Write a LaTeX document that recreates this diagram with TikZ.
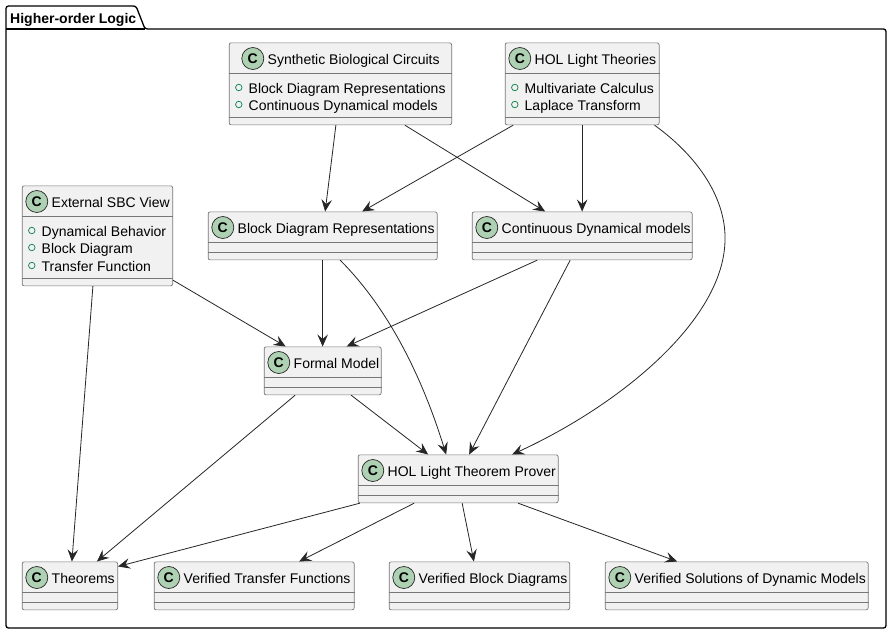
\documentclass[tikz,border=0pt]{standalone}
\usepackage{fontspec}
\setmainfont{Liberation Sans}
\usetikzlibrary{arrows.meta,calc}

\definecolor{boxfill}{HTML}{F1F1F1}
\definecolor{boxline}{HTML}{777777}
\definecolor{spotfill}{HTML}{ADD1B2}
\definecolor{memberring}{HTML}{038048}
\definecolor{edgeline}{HTML}{262626}

\tikzset{
  classbox/.style={
    rectangle,
    draw=boxline,
    fill=boxfill,
    line width=0.7pt,
    rounded corners=2pt,
    anchor=north west,
    inner sep=0pt,
  },
  spot/.style={
    circle,
    draw=black!85,
    fill=spotfill,
    line width=0.7pt,
    minimum size=22pt,
    inner sep=0pt,
    font=\fontsize{14}{14}\selectfont\bfseries,
  },
  classtext/.style={
    anchor=west,
    inner sep=0pt,
    text height=10pt,
    text depth=3pt,
    font=\fontsize{14}{14}\selectfont,
  },
  ring/.style={
    circle,
    draw=memberring,
    line width=0.7pt,
    minimum size=6.5pt,
    inner sep=0pt,
  },
  divider/.style={draw=boxline, line width=0.7pt},
  link/.style={
    -{Stealth[length=12pt,width=10.5pt,inset=4.5pt]},
    draw=edgeline,
    line width=0.8pt,
  },
}

% name, left, top, width, height, spot offset, title
\newcommand{\classnode}[7]{
  \node[classbox, minimum width=#4pt, minimum height=#5pt] (#1) at (#2-0.2,-#3+0.5) {};
  \node[spot] (#1c) at ($(#1.north west)+(#6pt,-16pt)$) {C};
  \node[classtext] (#1t) at ($(#1c.center)+(14.7pt,-2.5pt)$) {#7};
  \draw[divider] ($(#1.north west)+(0,-31pt)$) -- ($(#1.north east)+(0,-31pt)$);
  \draw[divider] ($(#1.south west)+(0,8pt)$) -- ($(#1.south east)+(0,8pt)$);
}
% class, index, line offset from top, text
\newcommand{\member}[4]{
  \node[ring] (#1r#2) at ($(#1.north west)+(10pt,-#3pt)$) {};
  \node[classtext] (#1m#2) at ($(#1r#2.center)+(9.7pt,-2pt)$) {#4};
}

\begin{document}
\begin{tikzpicture}[x=1pt,y=1pt]
  \useasboundingbox (0,0) rectangle (891,-632);

  \draw[line width=1.3pt, rounded corners=2.5pt, fill=white]
    (6,-29) -- (6,-6) -- (136,-6) -- (145,-29) -- (886,-29)
    -- (886,-628) -- (6,-628) -- cycle;
  \draw[line width=1.3pt] (6,-29) -- (145,-29);
  \node[classtext, font=\fontsize{14}{14}\selectfont\bfseries] (pkg) at (10,-19.5) {Higher-order Logic};

  \classnode{syn}{229}{43}{222.5}{82}{24}{Synthetic Biological Circuits}
  \member{syn}{1}{45}{Block Diagram Representations}
  \member{syn}{2}{62}{Continuous Dynamical models}

  \classnode{thy}{505}{43}{154}{82}{15}{HOL Light Theories}
  \member{thy}{1}{45}{Multivariate Calculus}
  \member{thy}{2}{62}{Laplace Transform}

  \classnode{ext}{22}{186}{150.5}{100}{15}{External SBC View}
  \member{ext}{1}{45}{Dynamical Behavior}
  \member{ext}{2}{62}{Block Diagram}
  \member{ext}{3}{80}{Transfer Function}

  \classnode{bd}{208}{212}{229}{48}{15}{Block Diagram Representations}
  \classnode{cd}{472}{212}{220}{48}{15}{Continuous Dynamical models}
  \classnode{fm}{264}{347}{117}{48}{15}{Formal Model}
  \classnode{hol}{358}{455}{200}{48}{15}{HOL Light Theorem Prover}
  \classnode{thm}{22}{562}{95.5}{48}{15}{Theorems}
  \classnode{vtf}{154}{562}{200}{48}{15}{Verified Transfer Functions}
  \classnode{vbd}{389}{562}{180.5}{48}{15}{Verified Block Diagrams}
  \classnode{vsd}{605}{562}{263}{48}{15}{Verified Solutions of Dynamic Models}

  \draw[link] ([xshift=-4.5pt]syn.south) -- ([xshift=2.5pt]bd.north);
  \draw[link] ([xshift=64.5pt]syn.south) -- ([xshift=-37pt]cd.north);
  \draw[link] ([xshift=-69pt]thy.south) -- ([xshift=39.5pt]bd.north);
  \draw[link] (thy.south) -- (cd.north);
  \draw[link] ([xshift=-5pt]thy.south east) .. controls (700,-158) and (726,-200) .. (725,-240)
    .. controls (724,-320) and (620,-405) .. ([xshift=54pt]hol.north);
  \draw[link] ([yshift=6pt]ext.south east) -- ([xshift=-37pt]fm.north);
  \draw[link] ([xshift=-4.5pt]ext.south) -- ([xshift=2pt]thm.north);
  \draw[link] (bd.south) -- (fm.north);
  \draw[link] ([xshift=17.5pt]bd.south) .. controls (385,-305) and (420,-370) .. ([xshift=-12pt]hol.north);
  \draw[link] ([xshift=-45pt]cd.south) -- ([xshift=24pt]fm.north);
  \draw[link] ([xshift=-12pt]cd.south) -- ([xshift=11pt]hol.north);
  \draw[link] ([xshift=28.5pt]fm.south) -- ([xshift=-30pt]hol.north);
  \draw[link] ([xshift=-27.5pt]fm.south) -- ([xshift=27pt]thm.north);
  \draw[link] ([xshift=2pt]hol.south west) -- ([yshift=-5pt]thm.north east);
  \draw[link] ([xshift=-44pt]hol.south) -- ([xshift=45pt]vtf.north);
  \draw[link] ([xshift=4pt]hol.south) -- ([xshift=-5.5pt]vbd.north);
  \draw[link] ([xshift=60pt]hol.south) -- ([xshift=-59.5pt]vsd.north);
\end{tikzpicture}
\end{document}
